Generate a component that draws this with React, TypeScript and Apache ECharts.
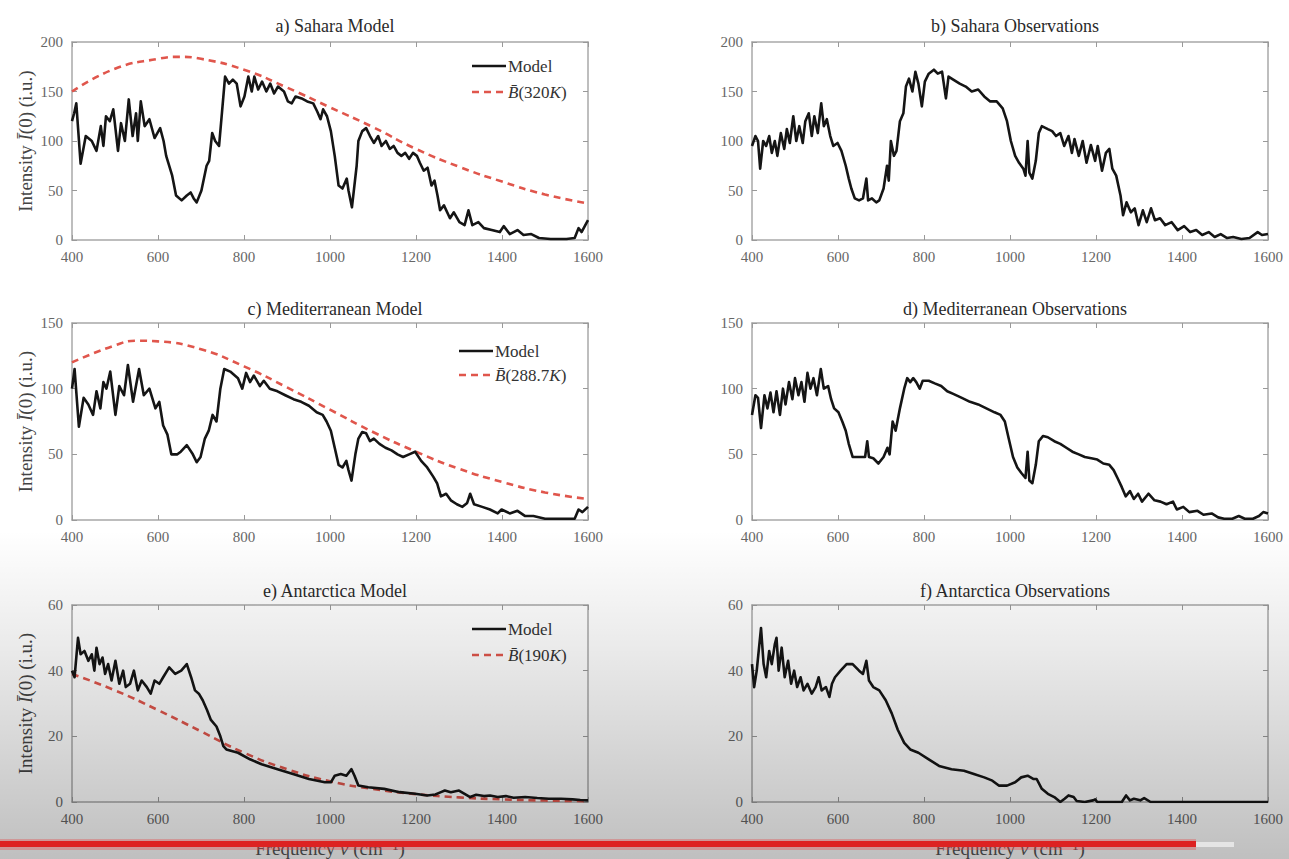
import React, { useEffect, useRef } from "react";
import * as echarts from "echarts";

const FONT = "'Liberation Serif', 'DejaVu Serif', serif";

// ---------- data (frequency cm^-1, intensity i.u.) ----------
const titles = [
  "a) Sahara Model",
  "b) Sahara Observations",
  "c) Mediterranean Model",
  "d) Mediterranean Observations",
  "e) Antarctica Model",
  "f) Antarctica Observations",
];
const xTicks = { min: 400, max: 1600, step: 200 };
const yMax = [200, 200, 150, 150, 60, 60];
const yStep = [50, 50, 50, 50, 20, 20];
const planckTemps = ["320", "288.7", "190"];

const saharaModel: [number, number][] = [
  [400,120],[405,128],[410,138],[420,77],[432,105],[446,100],[457,90],[467,115],[473,95],[479,125],[488,120],[496,132],[507,90],[514,118],[523,100],[532,142],[541,105],[549,128],[553,100],[560,140],[569,115],[580,122],[592,103],[605,113],[613,100],[619,85],[624,78],[633,65],[642,45],[655,40],[667,45],[676,48],[683,42],[690,38],[701,50],[713,75],[719,80],[726,108],[733,100],[742,95],[749,130],[756,165],[765,158],[774,162],[783,158],[792,135],[801,145],[810,165],[818,150],[824,165],[833,152],[842,160],[852,150],[861,158],[870,148],[879,155],[893,150],[902,140],[911,138],[920,145],[934,143],[947,140],[961,138],[970,130],[978,122],[984,132],[993,125],[1002,110],[1011,85],[1020,55],[1029,52],[1039,62],[1043,50],[1051,33],[1062,75],[1066,100],[1075,110],[1084,113],[1093,105],[1102,98],[1112,105],[1120,95],[1130,100],[1139,92],[1148,95],[1157,88],[1166,85],[1175,88],[1184,82],[1193,88],[1202,85],[1209,78],[1218,70],[1227,73],[1236,55],[1243,60],[1250,45],[1256,30],[1265,35],[1279,22],[1288,28],[1301,18],[1313,15],[1322,30],[1331,15],[1345,18],[1358,12],[1376,10],[1395,8],[1404,14],[1418,6],[1436,10],[1450,5],[1468,6],[1486,2],[1513,1],[1550,1],[1569,2],[1578,12],[1585,8],[1600,20],
];
const saharaPlanck: [number, number][] = [
  [400,150],[500,173],[600,183],[650,185],[700,183],[800,172],[900,154],[1000,134],[1100,114],[1200,92],[1300,74],[1400,59],[1500,46],[1600,37],
];
const saharaObs: [number, number][] = [
  [400,95],[408,105],[414,100],[419,72],[426,100],[433,95],[440,105],[446,88],[453,100],[459,85],[467,108],[475,92],[481,112],[488,98],[496,125],[503,100],[510,115],[518,98],[524,120],[532,128],[539,105],[545,125],[553,108],[561,138],[567,115],[574,122],[582,105],[589,95],[599,98],[608,90],[618,75],[625,62],[631,52],[639,42],[649,40],[658,42],[666,62],[670,40],[679,42],[689,38],[696,40],[706,52],[714,75],[718,60],[723,100],[730,85],[736,90],[744,120],[752,128],[758,155],[765,163],[773,150],[780,170],[787,158],[795,135],[802,160],[811,168],[823,172],[832,168],[842,170],[851,143],[857,165],[868,162],[883,158],[897,155],[911,150],[926,152],[940,145],[954,140],[969,140],[983,133],[993,120],[1002,100],[1012,85],[1021,78],[1031,72],[1036,65],[1041,100],[1045,68],[1052,62],[1060,80],[1067,108],[1074,115],[1088,112],[1098,110],[1107,105],[1117,108],[1126,95],[1136,105],[1144,88],[1150,102],[1160,85],[1169,100],[1178,78],[1188,96],[1198,80],[1204,95],[1214,70],[1223,88],[1231,92],[1238,72],[1247,65],[1257,45],[1263,25],[1271,38],[1281,28],[1290,32],[1299,15],[1309,30],[1318,18],[1328,32],[1337,20],[1349,22],[1361,15],[1376,18],[1390,10],[1405,14],[1419,8],[1433,10],[1447,5],[1462,8],[1476,3],[1490,6],[1505,2],[1519,3],[1538,1],[1557,2],[1576,8],[1586,5],[1600,6],
];
const medModel: [number, number][] = [
  [400,100],[406,115],[416,71],[427,93],[438,88],[449,80],[457,98],[466,85],[473,105],[480,100],[489,113],[501,80],[510,102],[521,95],[530,118],[542,90],[556,115],[567,95],[580,100],[594,85],[603,90],[612,72],[622,65],[631,50],[645,50],[653,52],[667,57],[681,50],[690,44],[699,48],[709,62],[718,68],[727,80],[736,75],[745,100],[754,115],[768,113],[786,108],[796,100],[805,112],[814,105],[823,110],[837,102],[846,106],[860,100],[878,98],[896,95],[915,92],[933,90],[951,87],[969,82],[983,80],[992,75],[1002,68],[1011,55],[1020,42],[1029,40],[1038,45],[1043,38],[1050,30],[1059,50],[1066,62],[1075,67],[1084,66],[1093,60],[1102,62],[1115,58],[1129,55],[1143,53],[1157,50],[1170,48],[1184,50],[1198,52],[1212,45],[1226,40],[1240,33],[1249,28],[1258,18],[1270,20],[1281,15],[1295,12],[1308,10],[1319,13],[1326,20],[1335,12],[1354,10],[1372,8],[1390,5],[1399,8],[1418,5],[1436,7],[1454,3],[1473,3],[1500,1],[1537,1],[1569,1],[1578,8],[1587,6],[1600,10],
];
const medPlanck: [number, number][] = [
  [400,120],[500,133],[550,136.5],[600,136],[700,130],[800,117],[900,101],[1000,84],[1100,67],[1200,52],[1300,39],[1400,29],[1500,21],[1600,16],
];
const medObs: [number, number][] = [
  [400,80],[408,95],[414,93],[421,70],[429,95],[436,85],[443,97],[450,82],[457,98],[465,80],[472,100],[478,88],[486,105],[494,92],[500,108],[508,95],[515,105],[522,90],[529,112],[536,100],[543,108],[551,95],[560,115],[567,100],[577,102],[584,92],[591,85],[601,82],[610,75],[618,68],[625,58],[634,48],[649,48],[663,48],[668,60],[672,48],[682,47],[694,43],[706,48],[715,55],[720,50],[727,75],[734,68],[744,85],[754,100],[761,108],[768,105],[775,108],[782,105],[790,100],[797,106],[811,106],[825,104],[840,102],[854,98],[868,96],[888,93],[907,90],[926,88],[945,85],[964,82],[978,80],[988,75],[997,62],[1007,48],[1017,40],[1026,36],[1036,32],[1041,52],[1045,30],[1052,28],[1060,42],[1067,60],[1077,64],[1088,63],[1103,60],[1117,58],[1131,55],[1145,52],[1160,50],[1174,48],[1189,47],[1203,46],[1217,43],[1231,42],[1241,38],[1250,32],[1260,25],[1269,18],[1279,22],[1288,16],[1298,20],[1307,14],[1322,20],[1336,15],[1350,14],[1364,12],[1379,14],[1388,8],[1403,10],[1417,6],[1436,7],[1450,4],[1469,5],[1484,2],[1498,1],[1517,1],[1532,3],[1546,1],[1565,1],[1579,3],[1589,6],[1600,5],
];
const antModel: [number, number][] = [
  [400,40],[406,38],[414,50],[420,45],[429,46],[438,43],[446,45],[452,40],[457,47],[464,42],[471,44],[477,39],[484,42],[492,37],[501,43],[510,36],[519,40],[525,35],[535,36],[544,40],[553,34],[562,37],[574,35],[583,33],[592,37],[603,36],[612,38],[626,41],[640,39],[654,40],[667,42],[677,38],[686,34],[695,33],[704,31],[714,28],[723,25],[736,23],[745,20],[752,17],[759,16],[786,15],[814,13],[841,11.5],[878,10],[914,8.5],[951,7],[988,6],[1002,6],[1011,8],[1025,8.5],[1038,8],[1050,10],[1057,8],[1066,5],[1089,4.5],[1126,4],[1162,3],[1198,2.5],[1226,2],[1245,2.3],[1258,3],[1267,3.5],[1281,3],[1300,3.5],[1313,2.5],[1326,1.5],[1340,2.2],[1358,1.8],[1372,2],[1390,1.5],[1409,1.8],[1427,1.3],[1454,1.5],[1482,1.2],[1509,1],[1537,1],[1564,0.8],[1582,0.6],[1600,0.5],
];
const antPlanck: [number, number][] = [
  [400,39],[500,34],[600,28],[700,21.5],[800,15],[900,10],[1000,6.3],[1100,4],[1200,2.4],[1300,1.4],[1400,0.8],[1500,0.45],[1600,0.25],
];
const antObs: [number, number][] = [
  [400,42],[405,35],[411,40],[421,53],[427,42],[433,38],[440,46],[446,42],[453,48],[457,50],[462,40],[469,47],[476,38],[484,43],[491,36],[498,40],[505,35],[513,38],[520,34],[529,36],[539,33],[548,35],[555,38],[562,34],[572,35],[580,32],[586,36],[593,38],[606,40],[620,42],[634,42],[649,40],[658,39],[666,43],[672,37],[682,35],[696,34],[711,31],[725,27],[739,22],[754,18],[768,16],[787,15],[811,13],[835,11],[864,10],[893,9.5],[916,8.5],[940,7.5],[959,6.5],[974,5],[993,5],[1012,6],[1026,7.5],[1041,8],[1055,7],[1062,7],[1074,4],[1088,2.5],[1103,1.5],[1117,0],[1127,1],[1136,2],[1148,1.5],[1155,0.3],[1174,0],[1193,0.5],[1198,0.8],[1203,0],[1260,0],[1270,2],[1279,0.5],[1288,1],[1303,0.5],[1312,1.2],[1327,0],[1600,0],
];

const curves = [saharaModel, saharaObs, medModel, medObs, antModel, antObs];
const planckCurves = [saharaPlanck, medPlanck, antPlanck];

// ---------- layout ----------
const grids = [
  { left: 72, top: 42, width: 516, height: 198 },
  { left: 752, top: 42, width: 516, height: 198 },
  { left: 72, top: 323, width: 516, height: 197 },
  { left: 752, top: 323, width: 516, height: 197 },
  { left: 72, top: 605, width: 516, height: 197 },
  { left: 752, top: 605, width: 516, height: 197 },
];
const titleTops = [12, 12, 295, 295, 577, 577];
const legendPos = [
  { x: 472, y: 66, gap: 26 },
  { x: 459, y: 351, gap: 24 },
  { x: 472, y: 629, gap: 26 },
];

const AXIS_COLOR = "#a8a8a8";
const LABEL_COLOR = "#666";
const MODEL_COLOR = "#151515";
const PLANCK_COLOR = "#e0564c";
const PLANCK_DASH = [7, 5];
const planckName = (t: string) => `B\u0304(${t}K)`;

function buildOption() {
  const xAxis: any[] = [];
  const yAxis: any[] = [];
  const series: any[] = [];
  const title: any[] = [];
  const graphic: any[] = [];

  grids.forEach((g, i) => {
    const isLeft = i % 2 === 0;
    const isBottom = i >= 4;
    const lineCommon = { show: true, onZero: false, lineStyle: { color: AXIS_COLOR, width: 1.5 } };
    const tickCommon = { show: true, inside: true, length: 5, lineStyle: { color: "#999", width: 1 } };
    const labelCommon = {
      color: LABEL_COLOR, fontFamily: FONT, fontSize: 15, margin: 9,
      formatter: (v: number) => String(v),
    };
    xAxis.push({
      gridIndex: i, type: "value", position: "bottom",
      min: xTicks.min, max: xTicks.max, interval: xTicks.step,
      axisLine: lineCommon, axisTick: tickCommon, splitLine: { show: false },
      axisLabel: labelCommon,
      name: isBottom ? "Frequency {i|\u03bd} (cm\u207b\u00b9)" : "",
      nameLocation: "middle", nameGap: 37,
      nameTextStyle: {
        fontFamily: FONT, fontSize: 19, color: "#555",
        rich: { i: { fontFamily: FONT, fontSize: 19, fontStyle: "italic", color: "#555" } },
      },
    });
    xAxis.push({
      gridIndex: i, type: "value", position: "top",
      min: xTicks.min, max: xTicks.max, interval: xTicks.step,
      axisLine: lineCommon, axisTick: tickCommon, splitLine: { show: false },
      axisLabel: { show: false },
    });
    yAxis.push({
      gridIndex: i, type: "value", position: "left",
      min: 0, max: yMax[i], interval: yStep[i],
      axisLine: lineCommon, axisTick: tickCommon, splitLine: { show: false },
      axisLabel: labelCommon,
      name: isLeft ? "Intensity {i|\u012a}(0) (i.u.)" : "",
      nameLocation: "middle", nameGap: 37,
      nameTextStyle: {
        fontFamily: FONT, fontSize: 19, color: "#444",
        rich: { i: { fontFamily: FONT, fontSize: 19, fontStyle: "italic", color: "#444" } },
      },
    });
    yAxis.push({
      gridIndex: i, type: "value", position: "right",
      min: 0, max: yMax[i], interval: yStep[i],
      axisLine: lineCommon, axisTick: tickCommon, splitLine: { show: false },
      axisLabel: { show: false },
    });
    title.push({
      text: titles[i],
      left: g.left + g.width / 2,
      top: titleTops[i],
      textAlign: "center",
      textStyle: { fontFamily: FONT, fontSize: 18, fontWeight: "normal", color: "#2a2a2a" },
    });
    series.push({
      type: "line",
      name: isLeft ? "Model" : "Observations",
      xAxisIndex: 2 * i, yAxisIndex: 2 * i,
      data: curves[i],
      showSymbol: false, symbol: "none",
      lineStyle: { color: MODEL_COLOR, width: 2.6, join: "round" },
      z: 3,
    });
    if (isLeft) {
      const k = i / 2;
      series.push({
        type: "line",
        name: planckName(planckTemps[k]),
        xAxisIndex: 2 * i, yAxisIndex: 2 * i,
        data: planckCurves[k],
        smooth: 0.5,
        showSymbol: false, symbol: "none",
        lineStyle: { color: PLANCK_COLOR, width: 2.6, type: PLANCK_DASH },
        z: 2,
      });
      // legend drawn as graphic (line sample + label)
      const lp = legendPos[k];
      graphic.push(
        {
          type: "line", silent: true, z: 10,
          shape: { x1: lp.x, y1: lp.y, x2: lp.x + 34, y2: lp.y },
          style: { stroke: MODEL_COLOR, lineWidth: 2.6 },
        },
        {
          type: "text", silent: true, z: 10, x: lp.x + 36, y: lp.y,
          style: {
            text: "Model", fill: "#333", font: `17px ${FONT}`,
            verticalAlign: "middle", align: "left",
          },
        },
        {
          type: "line", silent: true, z: 10,
          shape: { x1: lp.x, y1: lp.y + lp.gap, x2: lp.x + 34, y2: lp.y + lp.gap },
          style: { stroke: PLANCK_COLOR, lineWidth: 2.6, lineDash: PLANCK_DASH },
        },
        {
          type: "text", silent: true, z: 10, x: lp.x + 36, y: lp.y + lp.gap,
          style: {
            text: `{i|B\u0304}(${planckTemps[k]}{i|K})`,
            fill: "#333", font: `17px ${FONT}`,
            verticalAlign: "middle", align: "left",
            rich: { i: { fontFamily: FONT, fontSize: 17, fontStyle: "italic", fill: "#333" } },
          },
        }
      );
    }
  });

  graphic.push(
    {
      type: "rect", silent: true, z: 100,
      shape: { x: 0, y: 530, width: 1289, height: 329 },
      style: {
        fill: new echarts.graphic.LinearGradient(0, 0, 0, 1, [
          { offset: 0, color: "rgba(0,0,0,0)" },
          { offset: 0.35, color: "rgba(0,0,0,0.08)" },
          { offset: 1, color: "rgba(0,0,0,0.25)" },
        ]),
      },
    },
    {
      type: "rect", silent: true, z: 101,
      shape: { x: 1196, y: 842, width: 38, height: 5 },
      style: { fill: "rgba(235,235,235,0.85)" },
    },
    {
      type: "rect", silent: true, z: 101,
      shape: { x: 0, y: 839, width: 1196, height: 11 },
      style: { fill: "rgba(230,70,70,0.35)" },
    },
    {
      type: "rect", silent: true, z: 102,
      shape: { x: 0, y: 841, width: 1196, height: 6 },
      style: { fill: "#dd2222" },
    }
  );

  return {
    animation: false,
    backgroundColor: "#ffffff",
    textStyle: { fontFamily: FONT },
    title,
    grid: grids.map((g) => ({ ...g, containLabel: false })),
    xAxis,
    yAxis,
    series,
    graphic,
  };
}

export default function App() {
  const ref = useRef<HTMLDivElement>(null);
  useEffect(() => {
    if (!ref.current) return;
    const chart = echarts.init(ref.current, null, { renderer: "svg" });
    chart.setOption(buildOption() as any);
    return () => chart.dispose();
  }, []);
  return (
    <div
      ref={ref}
      style={{ position: "fixed", left: 0, top: 0, width: 1289, height: 859, background: "#fff" }}
    />
  );
}
